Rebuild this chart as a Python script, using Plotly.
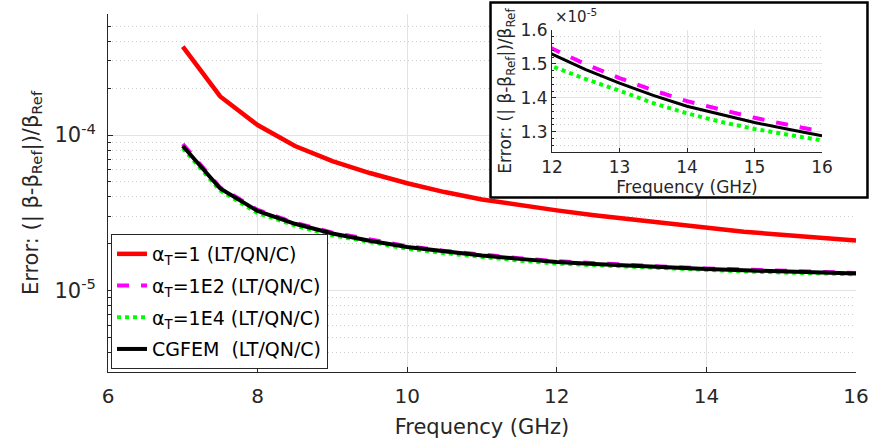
import plotly.graph_objects as go

# ---------------- data ----------------
freq_ghz = [7.0, 7.5, 8.0, 8.5, 9.0, 9.5, 10.0, 10.5, 11.0, 11.5, 12.0,
            12.5, 13.0, 13.5, 14.0, 14.5, 15.0, 15.5, 16.0]
err_alpha_1 = [3.70e-4, 1.77e-4, 1.16e-4, 8.50e-5, 6.80e-5, 5.70e-5, 4.90e-5,
               4.30e-5, 3.85e-5, 3.53e-5, 3.28e-5, 3.05e-5, 2.87e-5, 2.67e-5,
               2.52e-5, 2.39e-5, 2.29e-5, 2.19e-5, 2.10e-5]
err_alpha_1e2 = [8.75e-5, 4.60e-5, 3.30e-5, 2.73e-5, 2.36e-5, 2.12e-5, 1.93e-5,
                 1.80e-5, 1.70e-5, 1.617e-5, 1.545e-5, 1.499e-5, 1.458e-5,
                 1.422e-5, 1.390e-5, 1.364e-5, 1.341e-5, 1.320e-5, 1.300e-5]
err_alpha_1e4 = [8.20e-5, 4.40e-5, 3.15e-5, 2.62e-5, 2.27e-5, 2.04e-5, 1.86e-5,
                 1.74e-5, 1.64e-5, 1.56e-5, 1.493e-5, 1.455e-5, 1.421e-5,
                 1.384e-5, 1.354e-5, 1.329e-5, 1.308e-5, 1.290e-5, 1.274e-5]
err_cgfem = [8.50e-5, 4.53e-5, 3.25e-5, 2.69e-5, 2.33e-5, 2.09e-5, 1.905e-5,
             1.78e-5, 1.68e-5, 1.60e-5, 1.529e-5, 1.483e-5, 1.443e-5,
             1.407e-5, 1.375e-5, 1.350e-5, 1.327e-5, 1.307e-5, 1.288e-5]

series_names = ["α<sub>T</sub>=1 (LT/QN/C)",
                "α<sub>T</sub>=1E2 (LT/QN/C)",
                "α<sub>T</sub>=1E4 (LT/QN/C)",
                "CGFEM&nbsp; (LT/QN/C)"]

main_xticks = [6, 8, 10, 12, 14, 16]
main_yticks = [1e-5, 1e-4]
main_yticktext = ["10<sup>-5</sup>", "10<sup>-4</sup>"]
inset_xticks = [12, 13, 14, 15, 16]
inset_yticks = [1.3e-5, 1.4e-5, 1.5e-5, 1.6e-5]
inset_yticktext = ["1.3", "1.4", "1.5", "1.6"]

# ---------------- styles ----------------
W, H = 871, 441
FONT = "DejaVu Sans"
AX = "#262626"
GRID = "#e3e3e3"
MGRID = "#cfcfcf"
MDASH = "1px,3px"

styles = [dict(color="#ff0000", width=4.5, dash="solid"),
          dict(color="#ff00ff", width=4, dash="dash"),
          dict(color="#00ff00", width=4, dash="dot"),
          dict(color="#000000", width=4, dash="solid")]
series = [err_alpha_1, err_alpha_1e2, err_alpha_1e4, err_cgfem]


def px_x(p):
    return p / W


def px_y(p):
    return (H - p) / H


fig = go.Figure()

# main plot traces
for i, (name, ys, st) in enumerate(zip(series_names, series, styles)):
    fig.add_trace(go.Scatter(x=freq_ghz, y=ys, mode="lines", name=name,
                             line=st, xaxis="x", yaxis="y",
                             legendgroup="g%d" % i))

# frame subplot (x2/y2) - holds the white inset box
fig.add_trace(go.Scatter(x=[], y=[], xaxis="x2", yaxis="y2",
                         showlegend=False, hoverinfo="skip"))

# inset traces
inset_styles = [dict(color="#ff00ff", width=4, dash="dash"),
                dict(color="#00ff00", width=4, dash="dot"),
                dict(color="#000000", width=3, dash="solid")]
for name, ys, st in zip(series_names[1:], series[1:], inset_styles):
    fig.add_trace(go.Scatter(x=freq_ghz, y=ys, mode="lines", name=name,
                             line=st, xaxis="x3", yaxis="y3",
                             showlegend=False))

minor_log = [m * 10.0 ** e for e in (-6, -5, -4) for m in range(2, 10)]
minor_log = [v for v in minor_log if 2.9e-6 < v < 6.1e-4]

fig.update_layout(
    width=W, height=H,
    margin=dict(l=0, r=0, t=0, b=0, autoexpand=False),
    paper_bgcolor="white", plot_bgcolor="white",
    font=dict(family=FONT, color=AX),
    xaxis=dict(domain=[px_x(108), px_x(856)], range=[6, 16],
               tickvals=main_xticks, ticks="inside", ticklen=5,
               tickcolor=AX, showline=True, linecolor=AX, linewidth=1,
               showgrid=True, gridcolor=GRID, zeroline=False,
               tickfont=dict(size=20, color=AX), automargin=False,
               ticklabelstandoff=6,
               title=dict(text="Frequency (GHz)", font=dict(size=21, color=AX),
                          standoff=12),
               anchor="y"),
    yaxis=dict(domain=[px_y(372), px_y(14)], type="log",
               range=[-5.523, -3.222],
               tickvals=main_yticks, ticktext=main_yticktext,
               ticks="inside", ticklen=5, tickcolor=AX,
               showline=True, linecolor=AX, linewidth=1,
               showgrid=True, gridcolor=GRID, zeroline=False,
               tickfont=dict(size=21, color=AX), automargin=False,
               ticklabelstandoff=7,
               minor=dict(tickvals=minor_log, ticks="inside", ticklen=3,
                          tickcolor=AX, showgrid=True, gridcolor=MGRID,
                          griddash=MDASH, gridwidth=1),
               title=dict(text="Error: (| β-β<sub>Ref</sub>|)/β<sub>Ref</sub>",
                          font=dict(size=21, color=AX), standoff=10),
               anchor="x"),
    xaxis2=dict(domain=[px_x(489), px_x(869)], range=[0, 1], visible=False,
                fixedrange=True, anchor="y2"),
    yaxis2=dict(domain=[px_y(199), px_y(1)], range=[0, 1], visible=False,
                fixedrange=True, anchor="x2"),
    xaxis3=dict(domain=[px_x(552), px_x(822)], range=[12, 16],
                tickvals=inset_xticks, ticks="inside", ticklen=4,
                tickcolor=AX, showline=True, linecolor=AX, linewidth=1,
                showgrid=True, gridcolor=GRID, zeroline=False,
                tickfont=dict(size=17, color=AX), automargin=False,
                title=dict(text="Frequency (GHz)", font=dict(size=17, color=AX),
                           standoff=0),
                anchor="y3"),
    yaxis3=dict(domain=[px_y(152), px_y(30)], range=[1.24e-5, 1.60e-5],
                tickvals=inset_yticks, ticktext=inset_yticktext,
                ticks="inside", ticklen=4, tickcolor=AX,
                showline=True, linecolor=AX, linewidth=1,
                showgrid=True, gridcolor=GRID, zeroline=False,
                tickfont=dict(size=17, color=AX), automargin=False,
                minor=dict(dtick=0.02e-5, ticks="inside", ticklen=2,
                           tickcolor=AX, showgrid=True, gridcolor=MGRID,
                           griddash=MDASH, gridwidth=1),
                title=dict(text="Error: (| β-β<sub>Ref</sub>|)/β<sub>Ref</sub>",
                           font=dict(size=17, color=AX), standoff=4),
                anchor="x3"),
    legend=dict(x=px_x(111), y=px_y(369), xanchor="left", yanchor="bottom",
                xref="paper", yref="paper",
                bgcolor="white", bordercolor=AX, borderwidth=1,
                font=dict(size=19, color="#000000"),
                itemwidth=30, tracegroupgap=4),
    showlegend=True,
)

# white framed inset box drawn in the frame subplot (above main data, below inset)
fig.add_shape(type="rect", xref="x2", yref="y2", x0=0.004, x1=0.996,
              y0=0.008, y1=0.992, layer="below",
              fillcolor="white", line=dict(color="#000000", width=2.5))

# MATLAB-style exponent label of the inset y axis
fig.add_annotation(x=px_x(553), y=px_y(16), xref="paper", yref="paper",
                   xanchor="left", yanchor="middle", showarrow=False,
                   text="×10<sup>-5</sup>", font=dict(size=15, color=AX))

fig.write_html("out.html")
